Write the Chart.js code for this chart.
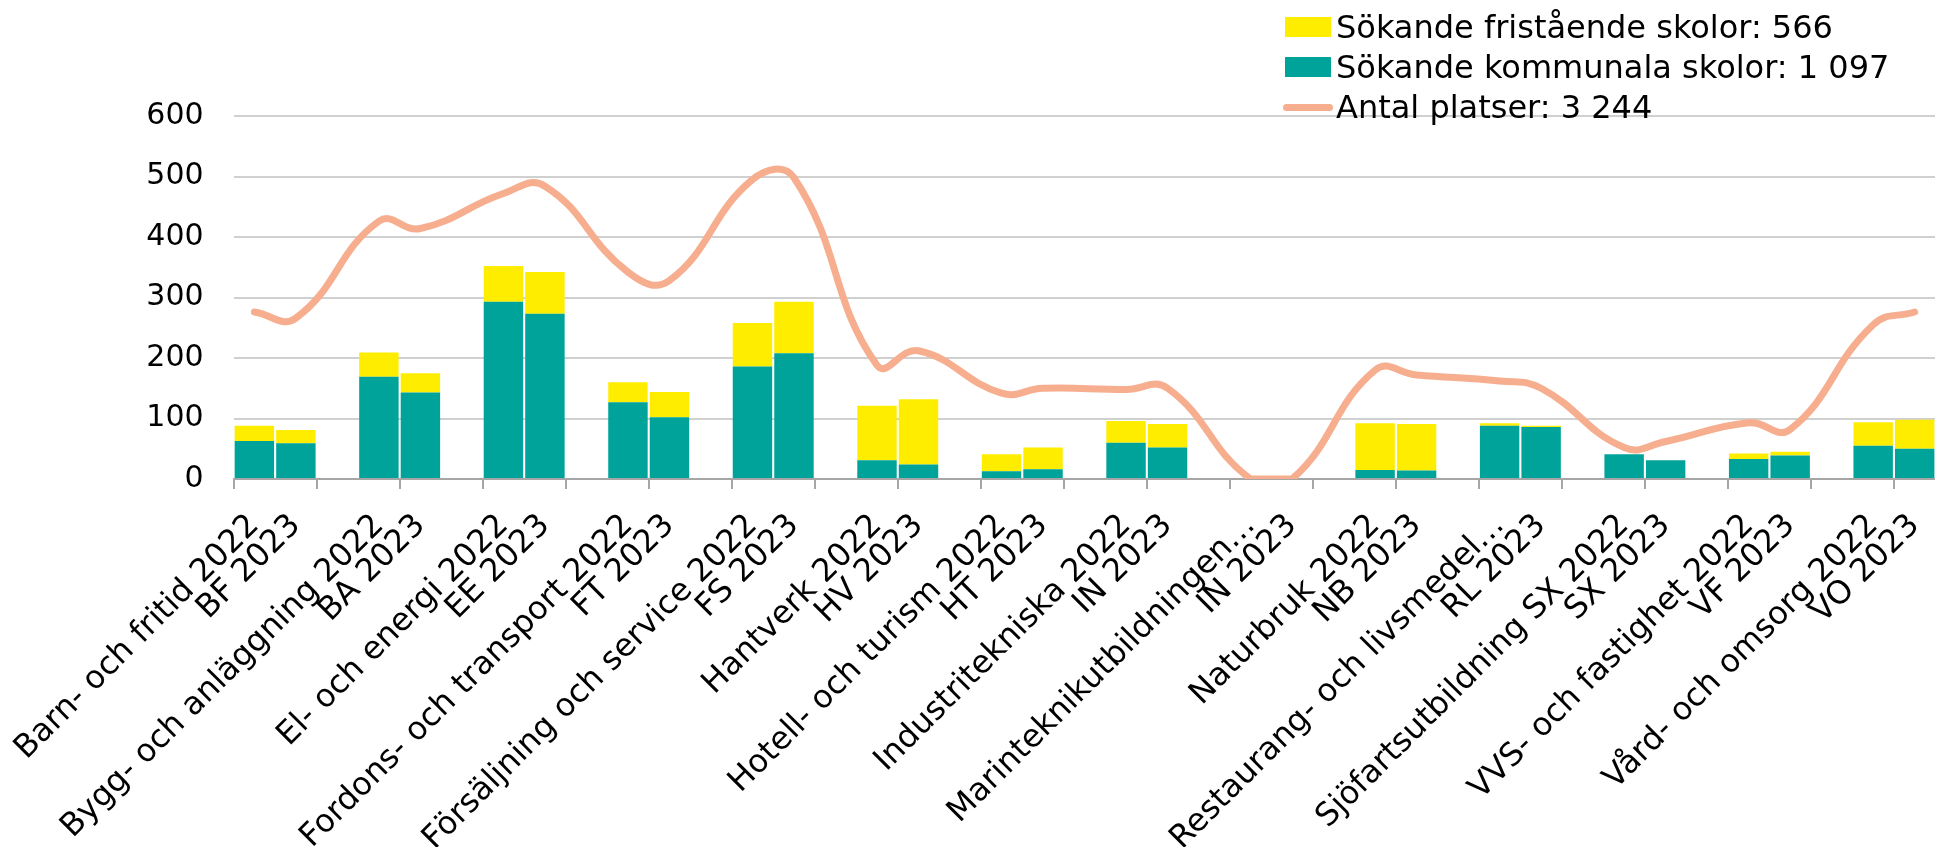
<!DOCTYPE html>
<html lang="sv">
<head>
<meta charset="utf-8">
<script src="https://cdn.jsdelivr.net/npm/chart.js@4.4.1/dist/chart.umd.min.js"></script>
<style>
  html, body { margin: 0; padding: 0; background: #fff; overflow: hidden; }
  #wrap { position: relative; width: 1960px; height: 847px; }
  #legend {
    position: absolute; left: 1285px; top: 7px;
    font-family: "DejaVu Sans", sans-serif; font-size: 32px; color: #000;
  }
  .row { display: flex; align-items: center; height: 40px; white-space: nowrap; }
  .box { width: 46px; height: 20px; margin-right: 5px; }
  .stroke { width: 50px; height: 7px; border-radius: 4px; margin-right: 3px; margin-left: -2px; }
</style>
</head>
<body>
<div id="wrap">
  <canvas id="chart"></canvas>
  <div id="legend"></div>
</div>
<script>
const programs2022 = [
  "Barn- och fritid 2022", "Bygg- och anläggning 2022", "El- och energi 2022",
  "Fordons- och transport 2022", "Försäljning och service 2022", "Hantverk 2022",
  "Hotell- och turism 2022", "Industritekniska 2022", "Marinteknikutbildningen…",
  "Naturbruk 2022", "Restaurang- och livsmedel…", "Sjöfartsutbildning SX 2022",
  "VVS- och fastighet 2022", "Vård- och omsorg 2022"
];
const programs2023 = [
  "BF 2023", "BA 2023", "EE 2023", "FT 2023", "FS 2023", "HV 2023", "HT 2023",
  "IN 2023", "IN 2023", "NB 2023", "RL 2023", "SX 2023", "VF 2023", "VO 2023"
];

const kommunala2022 = [63, 169, 293, 127, 186, 31, 13, 60, 0, 15, 88, 41, 33, 55];
const kommunala2023 = [59, 143, 273, 102, 208, 24, 16, 52, 0, 14, 86, 31, 39, 50];
const fristaende2022 = [25, 40, 59, 33, 72, 90, 28, 36, 0, 77, 4, 0, 9, 39];
const fristaende2023 = [22, 32, 69, 42, 85, 108, 36, 39, 0, 77, 2, 0, 6, 48];
const platser2022 = [276, 426, 472, 342, 495, 188, 142, 148, 0, 180, 162, 52, 93, 255];
const platser2023 = [266, 414, 484, 328, 498, 212, 150, 150, 0, 172, 150, 62, 82, 276];

const yTicks = [0, 100, 200, 300, 400, 500, 600];

const legendItems = [
  { label: "Sökande fristående skolor: 566", color: "#FFED00", kind: "box" },
  { label: "Sökande kommunala skolor: 1 097", color: "#00A39A", kind: "box" },
  { label: "Antal platser: 3 244", color: "#F6AE8F", kind: "line" }
];

// each program gets two slots (2022, 2023) and an empty spacer slot
function spread(a2022, a2023, spacer) {
  const out = [];
  for (let i = 0; i < a2022.length; i++) {
    out.push(a2022[i], a2023[i]);
    if (i < a2022.length - 1) out.push(spacer);
  }
  return out;
}

const labels = spread(programs2022, programs2023, "");
const font = "'DejaVu Sans', sans-serif";

new Chart(document.getElementById("chart"), {
  type: "bar",
  data: {
    labels: labels,
    datasets: [
      {
        type: "line",
        label: legendItems[2].label,
        data: spread(platser2022, platser2023, null),
        borderColor: legendItems[2].color,
        borderWidth: 7,
        borderCapStyle: "round",
        borderJoinStyle: "round",
        pointRadius: 0,
        tension: 0.45,
        spanGaps: true,
        stack: "line",
        order: 0
      },
      {
        label: legendItems[1].label,
        data: spread(kommunala2022, kommunala2023, null),
        backgroundColor: legendItems[1].color,
        stack: "s",
        order: 1,
        barPercentage: 0.95,
        categoryPercentage: 1
      },
      {
        label: legendItems[0].label,
        data: spread(fristaende2022, fristaende2023, null),
        backgroundColor: legendItems[0].color,
        stack: "s",
        order: 1,
        barPercentage: 0.95,
        categoryPercentage: 1
      }
    ]
  },
  options: {
    responsive: true,
    maintainAspectRatio: false,
    animation: false,
    devicePixelRatio: 1,
    layout: { padding: { top: 116, right: 15, left: 0, bottom: 0 } },
    plugins: { legend: { display: false }, tooltip: { enabled: false } },
    scales: {
      x: {
        stacked: true,
        offset: true,
        border: { display: true, color: "#A6A6A6", width: 2 },
        grid: {
          offset: true,
          drawOnChartArea: false,
          drawTicks: true,
          tickLength: 10,
          lineWidth: 2,
          color: (ctx) => (ctx.index % 2 === 0 ? "#A6A6A6" : "rgba(0,0,0,0)")
        },
        ticks: {
          autoSkip: false,
          minRotation: 45,
          maxRotation: 45,
          padding: 18,
          color: "#000",
          font: { family: font, size: 32 }
        },
        afterFit: (scale) => { scale.height = 368; }
      },
      y: {
        stacked: true,
        min: yTicks[0],
        max: yTicks[yTicks.length - 1],
        border: { display: false },
        grid: { color: "#D0D0D0", lineWidth: 2, drawTicks: false },
        ticks: {
          stepSize: yTicks[1] - yTicks[0],
          padding: 30,
          color: "#000",
          font: { family: font, size: 30 }
        },
        afterFit: (scale) => { scale.width = 232; }
      }
    }
  }
});

const legend = document.getElementById("legend");
legendItems.forEach((item) => {
  const row = document.createElement("div");
  row.className = "row";
  const mark = document.createElement("span");
  mark.className = item.kind === "box" ? "box" : "stroke";
  mark.style.background = item.color;
  const text = document.createElement("span");
  text.textContent = item.label;
  row.appendChild(mark);
  row.appendChild(text);
  legend.appendChild(row);
});
</script>
</body>
</html>
